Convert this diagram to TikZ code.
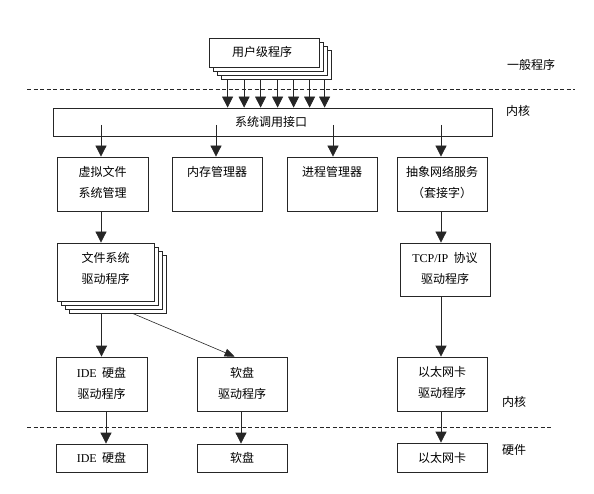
\documentclass[tikz,border=0pt]{standalone}
\usepackage{fontspec}
\setmainfont{Noto Sans CJK SC}
\newfontfamily\lat{Liberation Serif}
\usetikzlibrary{arrows.meta,calc}
\begin{document}
\begin{tikzpicture}[x=1pt,y=-1pt,
  box/.style={draw=black!85,line width=0.8pt,fill=white,inner sep=0pt,minimum width=90pt,minimum height=54pt},
  txt/.style={font=\fontsize{12}{12}\selectfont,text=black,inner sep=0pt},
  arr/.style={-{Triangle[length=11pt,width=11pt]},line width=0.8pt,draw=black!85},
  thinarr/.style={-{Triangle[length=10pt,width=8pt]},line width=0.6pt,draw=black!85},
  dline/.style={dash pattern=on 4pt off 2.5pt,line width=0.8pt,draw=black!85}]
\useasboundingbox (0,0) rectangle (594,494);
\fill[white] (0,0) rectangle (594,494);

% dashed separators
\coordinate (d1l) at (27,89);  \coordinate (d1r) at (575,89);
\coordinate (d2l) at (27,427); \coordinate (d2r) at (553,427);
\draw[dline] (d1l) -- (d1r);
\draw[dline] (d2l) -- (d2r);

% side labels
\node[txt] (lgen) at (531,65) {一般程序};
\node[txt] (lk1) at (518,111) {内核};
\node[txt] (lk2) at (514,402) {内核};
\node[txt] (lhw) at (514,450) {硬件};

% user programs (stack)
\foreach \i/\x/\y in {4/276/64.5,3/272/60.5,2/268/56.5,1/264/52.5}
  \node[box,minimum width=110pt,minimum height=29pt] (u\i) at (\x,\y) {};
\node[txt] (tu) at (262,52) {用户级程序};

% system call interface
\node[box,minimum width=439pt,minimum height=28pt] (sys) at (272.5,122) {};
\node[txt] (tsys) at (271,122) {系统调用接口};

\foreach \d in {7,23.5,40,57,73,89,104}
  \draw[arr] ([xshift=\d pt]u4.south west) -- ([xshift=\d pt]u4.south west |- sys.north);

% second row
\node[box,minimum width=91pt] (vfs) at (102.5,184) {};
\node[box] (mem) at (217,184) {};
\node[box] (proc) at (332,184) {};
\node[box] (net) at (442,184) {};
\node[txt] (tvfs1) at (102.5,172) {虚拟文件};
\node[txt] (tvfs2) at (102.5,193) {系统管理};
\node[txt] (tmem) at (217,172) {内存管理器};
\node[txt] (tproc) at (332,172) {进程管理器};
\node[txt] (tnet1) at (442,172) {抽象网络服务};
\node[txt] (tnet2) at (442,193) {（套接字）};

\foreach \n/\s in {vfs/-1.5,mem/-1,proc/1,net/-1}
  \draw[arr] ([xshift=\s pt,yshift=-3pt]sys.center -| \n.north) -- ([xshift=\s pt]\n.north);

% file system drivers (stack)
\foreach \i/\x/\y in {4/117.5/284,3/113.5/280,2/109.5/276,1/105.5/272}
  \node[box,minimum width=97pt,minimum height=58pt] (f\i) at (\x,\y) {};
\node[txt] (tf1) at (105.5,258) {文件系统};
\node[txt] (tf2) at (105.5,279) {驱动程序};

% TCP/IP
\node[box,minimum height=53pt] (tcp) at (445,269.5) {};
\node[txt] (ttcp1) at (445,258) {{\lat TCP/IP}\ \ 协议};
\node[txt] (ttcp2) at (445,279) {驱动程序};

\draw[arr] ([xshift=-1.5pt]vfs.south) -- ([xshift=-1.5pt]vfs.south |- f1.north);
\draw[arr] ([xshift=-1pt]net.south) -- ([xshift=-1pt]net.south |- tcp.north);

% drivers row
\node[box,minimum width=91pt] (ided) at (101.5,384) {};
\node[box] (flpd) at (242,384) {};
\node[box] (ethd) at (442,384) {};
\node[txt] (tided1) at (101.5,373) {{\lat IDE}\ \ 硬盘};
\node[txt] (tided2) at (101.5,394) {驱动程序};
\node[txt] (tflpd1) at (242,373) {软盘};
\node[txt] (tflpd2) at (242,394) {驱动程序};
\node[txt] (tethd1) at (442,372) {以太网卡};
\node[txt] (tethd2) at (442,393) {驱动程序};

\draw[arr] (f4.south -| ided.north) -- (ided.north);
\draw[thinarr] ($(f4.south west)+(64,0)$) -- ($(flpd.north west)+(38,0)$);
\draw[arr] ([xshift=-4pt]tcp.south) -- ([xshift=-4pt]tcp.south |- ethd.north);

% hardware row
\node[box,minimum width=91pt,minimum height=28pt] (ide) at (101.5,458) {};
\node[box,minimum height=28pt] (flp) at (242,458) {};
\node[box,minimum height=29pt] (eth) at (442,457.5) {};
\node[txt] (tide) at (101.5,458) {{\lat IDE}\ \ 硬盘};
\node[txt] (tflp) at (242,458) {软盘};
\node[txt] (teth) at (442,458) {以太网卡};

\draw[arr] ([xshift=4.5pt]ided.south) -- ([xshift=4.5pt]ided.south |- ide.north);
\draw[arr] ([xshift=-1pt]flpd.south) -- ([xshift=-1pt]flpd.south |- flp.north);
\draw[arr] ([xshift=-1pt]ethd.south) -- ([xshift=-1pt]ethd.south |- eth.north);
\end{tikzpicture}
\end{document}
